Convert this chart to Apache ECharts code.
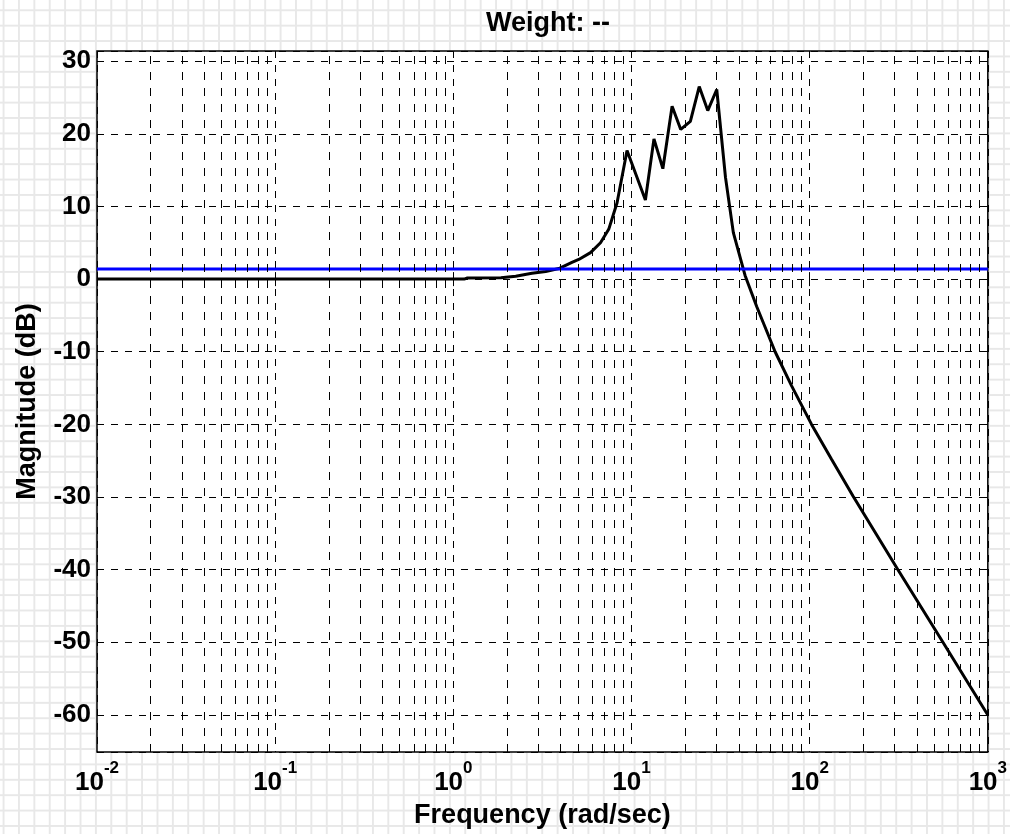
<!DOCTYPE html>
<html>
<head>
<meta charset="utf-8">
<script src="https://cdn.jsdelivr.net/npm/echarts@6/dist/echarts.min.js"></script>
<style>
  html, body { margin: 0; padding: 0; }
  body {
    width: 1010px; height: 834px; overflow: hidden;
    background-color: #ffffff;
    background-image:
      linear-gradient(to right, #e8e8e8 1.6px, transparent 1.6px),
      linear-gradient(to bottom, #e8e8e8 1.6px, transparent 1.6px);
    background-size: 15.4px 15.4px;
    background-position: 2.6px 9.3px;
  }
  #chart { width: 1010px; height: 834px; }
</style>
</head>
<body>
<div id="chart"></div>
<script>
// ---- data ----
const titleText = 'Weight: --';
const xName = 'Frequency (rad/sec)';
const yName = 'Magnitude (dB)';

const freq = [0.01, 1.15, 1.2, 1.85, 2.24, 2.76, 3.30, 3.91, 4.63, 5.06, 5.89, 6.70, 7.45, 8.30, 9.44,
  11.97, 13.37, 15.0, 16.9, 18.9, 21.4, 24.0, 26.8, 30.1, 33.7, 37.3, 43.4, 50.5, 64.0, 79.2,
  102.5, 132.7, 175.4, 313, 560, 1000];
const mag = [0, 0, 0.15, 0.2, 0.4, 0.8, 1.05, 1.45, 2.3, 2.7, 3.65, 5.0, 6.85, 10.5, 17.7,
  10.9, 19.3, 15.2, 23.8, 20.6, 21.7, 26.5, 23.2, 26.1, 14.0, 6.4, 0.5, -3.8, -10.0, -14.7,
  -20.0, -24.8, -29.9, -40, -50, -60];

const weightLevel = 1.4;          // blue horizontal line (dB)
const freqRange = [0.01, 1000];
const magRange = [-65.1, 31.4];
const decades = [0.01, 0.1, 1, 10, 100];
const minorMult = [2, 3, 4, 5, 6, 7, 8, 9];

// ---- build ----
const curve = freq.map((f, i) => [f, mag[i]]);
const blue = [[freqRange[0], weightLevel], [freqRange[1], weightLevel]];
const minorLines = [];
decades.forEach(d => minorMult.forEach(m => minorLines.push({ xAxis: +(d * m).toPrecision(3) })));

const FONT = "'Liberation Sans', Arial, Helvetica, sans-serif";
const dash = { type: [7, 7], color: '#000', width: 1 };

const chart = echarts.init(document.getElementById('chart'), null, { renderer: 'canvas' });
chart.setOption({
  animation: false,
  backgroundColor: 'transparent',
  title: {
    text: titleText, left: 543, top: 5, textAlign: 'center',
    textStyle: { fontFamily: FONT, fontWeight: 'bold', fontSize: 27, color: '#000' }
  },
  grid: {
    left: 97, top: 51, right: 20, bottom: 78,
    show: true, backgroundColor: '#fff', borderColor: '#000', borderWidth: 1.5
  },
  xAxis: [{
    type: 'log', logBase: 10, min: freqRange[0], max: freqRange[1], position: 'bottom',
    name: xName, nameLocation: 'middle', nameGap: 50,
    nameTextStyle: { fontFamily: FONT, fontWeight: 'bold', fontSize: 27, color: '#000' },
    axisLine: { show: false },
    axisTick: { show: true, inside: true, length: 7, lineStyle: { color: '#000', width: 1 } },
    axisLabel: {
      margin: 8,
      formatter: v => '{b|10}{s|' + Math.round(Math.log10(v)) + '}',
      rich: {
        b: { fontFamily: FONT, fontWeight: 'bold', fontSize: 26, lineHeight: 46, color: '#000' },
        s: { fontFamily: FONT, fontWeight: 'bold', fontSize: 17, lineHeight: 17, verticalAlign: 'top', color: '#000' }
      }
    },
    splitLine: { show: true, lineStyle: dash }
  }, {
    type: 'log', logBase: 10, min: freqRange[0], max: freqRange[1], position: 'top',
    axisLine: { show: false }, axisLabel: { show: false }, splitLine: { show: false },
    axisTick: { show: true, inside: true, length: 7, lineStyle: { color: '#000', width: 1 } }
  }],
  yAxis: [{
    type: 'value', min: magRange[0], max: magRange[1], splitNumber: 10,
    name: yName, nameLocation: 'middle', nameGap: 56,
    nameTextStyle: { fontFamily: FONT, fontWeight: 'bold', fontSize: 27, color: '#000' },
    axisLine: { show: false },
    axisTick: { show: true, inside: true, length: 7, lineStyle: { color: '#000', width: 1 } },
    axisLabel: {
      margin: 6, fontFamily: FONT, fontWeight: 'bold', fontSize: 26, color: '#000',
      formatter: v => (Math.abs(v - Math.round(v / 10) * 10) < 1e-6 ? String(Math.round(v)) : '')
    },
    splitLine: { show: true, lineStyle: dash }
  }, {
    type: 'value', min: magRange[0], max: magRange[1], splitNumber: 10, position: 'right',
    axisLine: { show: false }, axisLabel: { show: false }, splitLine: { show: false },
    axisTick: { show: true, inside: true, length: 7, lineStyle: { color: '#000', width: 1 } }
  }],
  series: [{
    type: 'line', data: [], z: 1, silent: true,
    markLine: {
      silent: true, symbol: ['none', 'none'], animation: false,
      label: { show: false },
      lineStyle: { type: [8, 8], color: '#000', width: 1 },
      emphasis: { disabled: true },
      data: minorLines
    }
  }, {
    type: 'line', data: curve, z: 3, symbol: 'none', silent: true,
    lineStyle: { color: '#000', width: 3 }
  }, {
    type: 'line', data: blue, z: 4, symbol: 'none', silent: true,
    lineStyle: { color: '#0000ff', width: 3 }
  }]
});
</script>
</body>
</html>
